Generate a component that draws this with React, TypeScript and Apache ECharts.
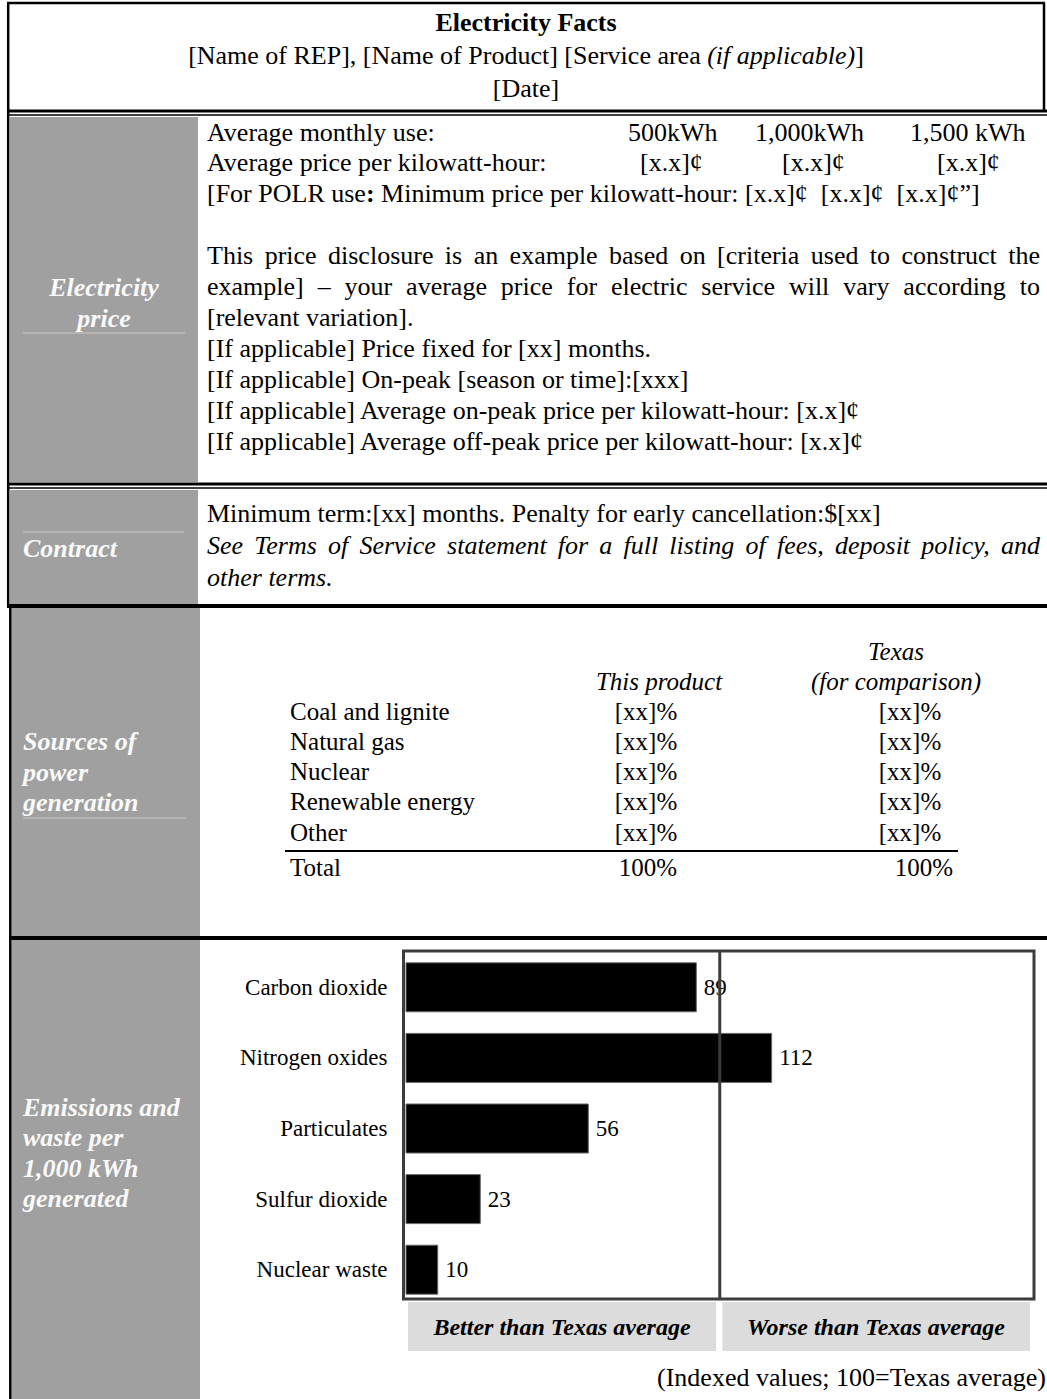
import React, { useEffect, useRef } from 'react';
import * as echarts from 'echarts';

// ---------- data ----------
const usageLevels = ['500kWh', '1,000kWh', '1,500 kWh'];
const avgPrices = ['[x.x]¢', '[x.x]¢', '[x.x]¢'];
const polrPrices = ['[x.x]¢', '[x.x]¢', '[x.x]¢'];
const sourceNames = ['Coal and lignite', 'Natural gas', 'Nuclear', 'Renewable energy', 'Other'];
const productShares = ['[xx]%', '[xx]%', '[xx]%', '[xx]%', '[xx]%'];
const texasShares = ['[xx]%', '[xx]%', '[xx]%', '[xx]%', '[xx]%'];
const totalShares = ['100%', '100%'];
const emissionCategories = ['Carbon dioxide', 'Nitrogen oxides', 'Particulates', 'Sulfur dioxide', 'Nuclear waste'];
const emissionValues = [89, 112, 56, 23, 10];
const INDEX_AXIS_MAX = 192;
const TEXAS_DIVIDER = 96;

// ---------- styling ----------
const SERIF = "'Liberation Serif', 'Times New Roman', Times, serif";
const GRAY = '#a0a0a0';
const FRAME = '#3c3c3c';

type TO = { size?: number; bold?: boolean; italic?: boolean; fill?: string; align?: string; rich?: any };
const T = (text: string, x: number, y: number, o: TO = {}) => ({
  type: 'text',
  x,
  y,
  z: 20,
  style: {
    text,
    fill: o.fill || '#000',
    fontSize: o.size || 26,
    fontFamily: SERIF,
    fontStyle: o.italic ? 'italic' : 'normal',
    fontWeight: o.bold ? 'bold' : 'normal',
    align: o.align || 'left',
    verticalAlign: 'middle',
    rich: o.rich,
  },
});
const L = (x1: number, y1: number, x2: number, y2: number, w: number, c = '#000', z = 15) => ({
  type: 'line',
  z,
  shape: { x1, y1, x2, y2 },
  style: { stroke: c, lineWidth: w },
});
const R = (x: number, y: number, width: number, height: number, fill: string, z = 0) => ({
  type: 'rect',
  z,
  shape: { x, y, width, height },
  style: { fill },
});

let measureCtx: CanvasRenderingContext2D | null = null;
function justify(text: string, x0: number, x1: number, y: number, o: TO = {}) {
  if (!measureCtx) measureCtx = document.createElement('canvas').getContext('2d');
  const size = o.size || 26;
  measureCtx!.font = `${o.italic ? 'italic ' : ''}${o.bold ? 'bold ' : ''}${size}px 'Liberation Serif'`;
  const words = text.split(' ');
  const ws = words.map((w) => measureCtx!.measureText(w).width);
  const total = ws.reduce((a, b) => a + b, 0);
  const gap = (x1 - x0 - total) / (words.length - 1);
  const out: any[] = [];
  let x = x0;
  words.forEach((w, i) => {
    out.push(T(w, x, y, o));
    x += ws[i] + gap;
  });
  return out;
}

function buildGraphics(dividerX: number) {
  const els: any[] = [];
  const TX = 207;
  const TR = 1040;
  const white = '#fafafa';
  const labelStyle: TO = { bold: true, italic: true, fill: white, size: 26 };

  // gray label column
  els.push(R(10, 117, 188, 365, GRAY));
  els.push(R(10, 490, 188, 114, GRAY));
  els.push(R(11.5, 608, 188.5, 328, GRAY));
  els.push(R(11.5, 940, 188.5, 459, GRAY));

  // borders / separators
  els.push(L(7, 3, 1045, 3, 2.5));
  els.push(L(1044, 3, 1044, 112, 2.5));
  els.push(L(8.2, 3, 8.2, 606, 2.5));
  els.push(L(10.3, 606, 10.3, 1399, 2.5));
  els.push(L(8, 111, 1047, 111, 3));
  els.push(L(8, 115, 1047, 115, 1.5));
  els.push(L(8, 484, 1047, 484, 3));
  els.push(L(8, 488, 1047, 488, 1.5));
  els.push(L(7, 606, 1047, 606, 4));
  els.push(L(9, 938, 1047, 938, 4));

  // header
  els.push(T('Electricity Facts', 526, 22, { bold: true, align: 'center' }));
  els.push(
    T('{n|[Name of REP], [Name of Product] [Service area }{i|(if applicable)}{n|]}', 526, 55, {
      align: 'center',
      rich: {
        n: { fontSize: 26, fontFamily: SERIF, fill: '#000' },
        i: { fontSize: 26, fontFamily: SERIF, fontStyle: 'italic', fill: '#000' },
      },
    })
  );
  els.push(T('[Date]', 526, 88, { align: 'center' }));

  // electricity price
  const PY = (i: number) => 132 + 30.9 * i;
  els.push(T('Average monthly use:', TX, PY(0)));
  [628, 755, 910].forEach((x, i) => els.push(T(usageLevels[i], x, PY(0))));
  els.push(T('Average price per kilowatt-hour:', TX, PY(1)));
  [640, 782, 937].forEach((x, i) => els.push(T(avgPrices[i], x, PY(1))));
  els.push(
    T(
      `{n|[For POLR use}{b|:}{n| Minimum price per kilowatt-hour: ${polrPrices[0]}  ${polrPrices[1]}  ${polrPrices[2]}\u201D]}`,
      TX,
      PY(2),
      {
        rich: {
          n: { fontSize: 26, fontFamily: SERIF, fill: '#000' },
          b: { fontSize: 26, fontFamily: SERIF, fontWeight: 'bold', fill: '#000' },
        },
      }
    )
  );
  els.push(...justify('This price disclosure is an example based on [criteria used to construct the', TX, TR, PY(4)));
  els.push(...justify('example] \u2013 your average price for electric service will vary according to', TX, TR, PY(5)));
  els.push(T('[relevant variation].', TX, PY(6)));
  els.push(T('[If applicable] Price fixed for [xx] months.', TX, PY(7)));
  els.push(T('[If applicable] On-peak [season or time]:[xxx]', TX, PY(8)));
  els.push(T('[If applicable] Average on-peak price per kilowatt-hour: [x.x]¢', TX, PY(9)));
  els.push(T('[If applicable] Average off-peak price per kilowatt-hour: [x.x]¢', TX, PY(10)));
  els.push(T('Electricity', 104, 287, { ...labelStyle, align: 'center' }));
  els.push(T('price', 104, 318, { ...labelStyle, align: 'center' }));
  els.push(L(23, 333, 185, 333, 1, '#c8c8c8'));

  // contract
  els.push(T('Minimum term:[xx] months. Penalty for early cancellation:$[xx]', TX, 513));
  els.push(
    ...justify('See Terms of Service statement for a full listing of fees, deposit policy, and', TX, TR, 545, {
      italic: true,
    })
  );
  els.push(T('other terms.', TX, 577, { italic: true }));
  els.push(L(23, 532, 184, 532, 1, '#c8c8c8'));
  els.push(T('Contract', 23, 548, labelStyle));

  // sources of power generation
  const SY = (i: number) => 711 + 30.3 * i;
  els.push(T('Texas', 896, 651, { italic: true, align: 'center', size: 25 }));
  els.push(T('This product', 659, 681, { italic: true, align: 'center', size: 25 }));
  els.push(T('(for comparison)', 896, 681, { italic: true, align: 'center', size: 25 }));
  sourceNames.forEach((s, i) => {
    els.push(T(s, 290, SY(i), { size: 25 }));
    els.push(T(productShares[i], 646, SY(i), { size: 25, align: 'center' }));
    els.push(T(texasShares[i], 910, SY(i), { size: 25, align: 'center' }));
  });
  els.push(L(285, 851, 958, 851, 2));
  els.push(T('Total', 290, 867, { size: 25 }));
  els.push(T(totalShares[0], 648, 867, { size: 25, align: 'center' }));
  els.push(T(totalShares[1], 924, 867, { size: 25, align: 'center' }));
  els.push(T('Sources of', 23, 741, labelStyle));
  els.push(T('power', 23, 772, labelStyle));
  els.push(T('generation', 23, 802, labelStyle));
  els.push(L(23, 818, 186, 818, 1, '#c8c8c8'));

  // emissions
  ['Emissions and', 'waste per', '1,000 kWh', 'generated'].forEach((s, i) =>
    els.push(T(s, 23, 1107 + 30.5 * i, labelStyle))
  );
  els.push({
    type: 'rect',
    z: 30,
    shape: { x: 403.5, y: 951, width: 630.5, height: 348 },
    style: { fill: 'none', stroke: FRAME, lineWidth: 3 },
  });
  els.push(L(dividerX, 951, dividerX, 1299, 3, FRAME, 30));
  els.push(R(408, 1302, 308, 49, '#dcdcdc', 1));
  els.push(R(722.5, 1302, 307.5, 49, '#dcdcdc', 1));
  els.push(T('Better than Texas average', 562, 1327, { bold: true, italic: true, align: 'center', size: 24 }));
  els.push(T('Worse than Texas average', 876, 1327, { bold: true, italic: true, align: 'center', size: 24 }));
  els.push(T('(Indexed values; 100=Texas average)', 1046, 1377, { align: 'right', size: 26 }));

  return els;
}

export default function App() {
  const ref = useRef<HTMLDivElement>(null);
  useEffect(() => {
    const chart = echarts.init(ref.current!, null, { renderer: 'svg' });
    chart.setOption({
      animation: false,
      backgroundColor: '#ffffff',
      grid: { left: 405.5, right: 13, top: 952, bottom: 94, containLabel: false },
      xAxis: {
        type: 'value',
        min: 0,
        max: INDEX_AXIS_MAX,
        show: false,
        splitLine: { show: false },
      },
      yAxis: {
        type: 'category',
        inverse: true,
        data: emissionCategories,
        axisLine: { show: false },
        axisTick: { show: false },
        axisLabel: { color: '#000', fontSize: 23, fontFamily: SERIF, margin: 18 },
      },
      series: [
        {
          type: 'bar',
          data: emissionValues,
          barWidth: 50,
          itemStyle: { color: '#000', borderColor: '#6a6a6a', borderWidth: 1 },
          label: {
            show: true,
            position: 'right',
            distance: 7,
            color: '#000',
            fontSize: 23,
            fontFamily: SERIF,
          },
        },
      ],
    });
    const dividerX = chart.convertToPixel({ xAxisIndex: 0 }, TEXAS_DIVIDER) as number;
    chart.setOption({ graphic: { elements: buildGraphics(dividerX) } });
    return () => chart.dispose();
  }, []);
  return (
    <div
      ref={ref}
      style={{ position: 'absolute', left: 0, top: 0, width: 1047, height: 1399, background: '#fff' }}
    />
  );
}
